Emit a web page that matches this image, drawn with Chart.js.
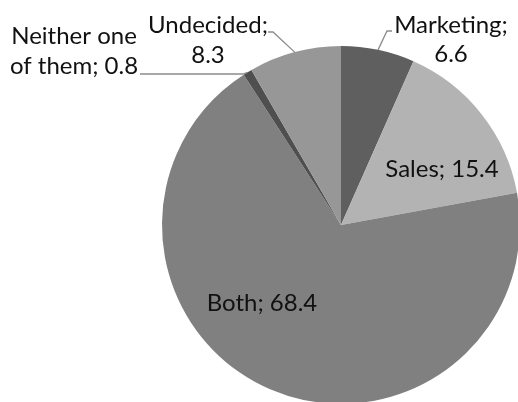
<!DOCTYPE html>
<html>
<head>
<meta charset="utf-8">
<script src="https://cdn.jsdelivr.net/npm/chart.js@4"></script>
<style>
  html, body { margin: 0; padding: 0; background: #fff; overflow: hidden; }
  #wrap { width: 518px; height: 402px; overflow: hidden; position: relative; }
  canvas { position: absolute; left: 0; top: 0; }
</style>
</head>
<body>
<div id="wrap"><canvas id="pieChart" width="560" height="420"></canvas></div>
<script>
const categories = ["Marketing", "Sales", "Both", "Neither one of them", "Undecided"];
const shares = [6.6, 15.4, 68.4, 0.8, 8.3];
const sliceColors = ["#5f5f5f", "#b3b3b3", "#808080", "#4f4f4f", "#979797"];

// label text lines, placed relative to the pie centre
const labelSetup = [
    { lines: ["Marketing;", "6.6"], dx: 110, dy: [-192, -163], leader: [[51, -194], [46, -194]] },
    { lines: ["Sales; 15.4"], dx: 101, dy: [-48] },
    { lines: ["Both; 68.4"], dx: -79, dy: [86] },
    { lines: ["Neither one", "of them; 0.8"], dx: -267, dy: [-181, -151], leader: [[-201, -151], [-98, -151]] },
    { lines: ["Undecided;", "8.3"], dx: -133, dy: [-192, -162], leader: [[-73, -193], [-68, -193]] }
];

const sliceLabels = {
    id: 'sliceLabels',
    afterDraw(chart) {
        const ctx = chart.ctx;
        const arcs = chart.getDatasetMeta(0).data;
        ctx.save();
        arcs.forEach((arc, i) => {
            const setup = labelSetup[i];
            const cx = arc.x, cy = arc.y;
            if (setup.leader) {
                const mid = (arc.startAngle + arc.endAngle) / 2;
                ctx.strokeStyle = '#8c8c8c';
                ctx.lineWidth = 1.3;
                ctx.beginPath();
                ctx.moveTo(cx + setup.leader[0][0], cy + setup.leader[0][1]);
                ctx.lineTo(cx + setup.leader[1][0], cy + setup.leader[1][1]);
                ctx.lineTo(cx + Math.cos(mid) * arc.outerRadius, cy + Math.sin(mid) * arc.outerRadius);
                ctx.stroke();
            }
            ctx.fillStyle = '#111';
            ctx.font = '24px Lato';
            ctx.textAlign = 'center';
            ctx.textBaseline = 'alphabetic';
            setup.lines.forEach((line, j) => {
                ctx.fillText(line, cx + setup.dx, cy + setup.dy[j]);
            });
        });
        ctx.restore();
    }
};

const ctx = document.getElementById('pieChart').getContext('2d');
const chart = new Chart(ctx, {
    type: 'pie',
    data: {
        labels: categories,
        datasets: [{
            data: shares,
            backgroundColor: sliceColors,
            borderWidth: 0
        }]
    },
    options: {
        responsive: false,
        animation: false,
        layout: { padding: { left: 162, right: 40, top: 46, bottom: 16 } },
        plugins: {
            legend: { display: false },
            tooltip: { enabled: false }
        }
    },
    plugins: [sliceLabels]
});
</script>
</body>
</html>
